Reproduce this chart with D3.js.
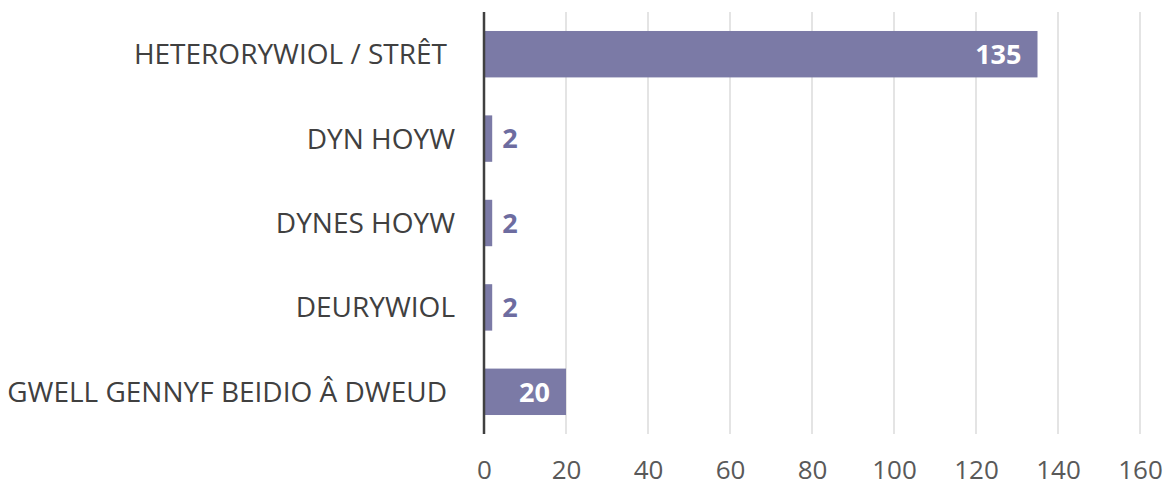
<!DOCTYPE html>
<html>
<head>
<meta charset="utf-8">
<script src="https://cdn.jsdelivr.net/npm/d3@7"></script>
<style>
  body { margin: 0; background: #fff; }
  text { font-family: "Open Sans", sans-serif; }
</style>
</head>
<body>
<div id="viz"></div>
<script>
var categories = ['HETERORYWIOL / STRÊT', 'DYN HOYW', 'DYNES HOYW', 'DEURYWIOL', 'GWELL GENNYF BEIDIO Â DWEUD'];
var values = [135, 2, 2, 2, 20];
var tickValues = [0, 20, 40, 60, 80, 100, 120, 140, 160];

var width = 1173;
var height = 494;
var margin = { top: 12, right: 33, bottom: 60, left: 484 };

var barColor = '#7b7aa6';

var svg = d3.select('#viz')
    .append('svg')
    .attr('width', width)
    .attr('height', height);

var x = d3.scaleLinear()
    .domain([0, 160])
    .range([margin.left, width - margin.right]);

var y = d3.scaleBand()
    .domain(categories)
    .range([margin.top, height - margin.bottom])
    .paddingInner(0.45)
    .paddingOuter(0.225);

// gridlines
svg.append('g')
    .selectAll('line')
    .data(tickValues.slice(1))
    .enter().append('line')
    .attr('x1', function (d) { return x(d); })
    .attr('x2', function (d) { return x(d); })
    .attr('y1', margin.top)
    .attr('y2', height - margin.bottom)
    .attr('stroke', '#c9c9c9')
    .attr('stroke-width', 1);

// bars
svg.append('g')
    .selectAll('rect')
    .data(values)
    .enter().append('rect')
    .attr('x', x(0))
    .attr('y', function (d, i) { return y(categories[i]); })
    .attr('width', function (d) { return x(d) - x(0); })
    .attr('height', y.bandwidth())
    .attr('fill', barColor);

// value labels
svg.append('g')
    .selectAll('text')
    .data(values)
    .enter().append('text')
    .attr('x', function (d) { return d > 10 ? x(d) - 16 : x(d) + 10; })
    .attr('y', function (d, i) { return y(categories[i]) + y.bandwidth() / 2; })
    .attr('dy', '0.36em')
    .attr('text-anchor', function (d) { return d > 10 ? 'end' : 'start'; })
    .attr('font-size', 27)
    .attr('font-weight', 'bold')
    .attr('fill', function (d) { return d > 10 ? '#ffffff' : '#6d6ca0'; })
    .text(function (d) { return d; });

// category labels
svg.append('g')
    .selectAll('text')
    .data(categories)
    .enter().append('text')
    .attr('x', function (d) { return d.length > 12 ? 447 : 455; })
    .attr('y', function (d) { return y(d) + y.bandwidth() / 2; })
    .attr('dy', '0.36em')
    .attr('text-anchor', 'end')
    .attr('font-size', 28)
    .attr('fill', '#404040')
    .text(function (d) { return d; });

// x axis labels
var xAxis = d3.axisBottom(x)
    .tickValues(tickValues)
    .tickSize(0)
    .tickPadding(27);

svg.append('g')
    .attr('transform', 'translate(0,' + (height - margin.bottom) + ')')
    .call(xAxis)
    .call(function (g) { g.select('.domain').remove(); })
    .selectAll('text')
    .attr('font-size', 26)
    .attr('font-family', '"Open Sans", sans-serif')
    .attr('fill', '#595959');

// y axis line
svg.append('line')
    .attr('x1', x(0))
    .attr('x2', x(0))
    .attr('y1', margin.top)
    .attr('y2', height - margin.bottom)
    .attr('stroke', '#404040')
    .attr('stroke-width', 2.5);
</script>
</body>
</html>
